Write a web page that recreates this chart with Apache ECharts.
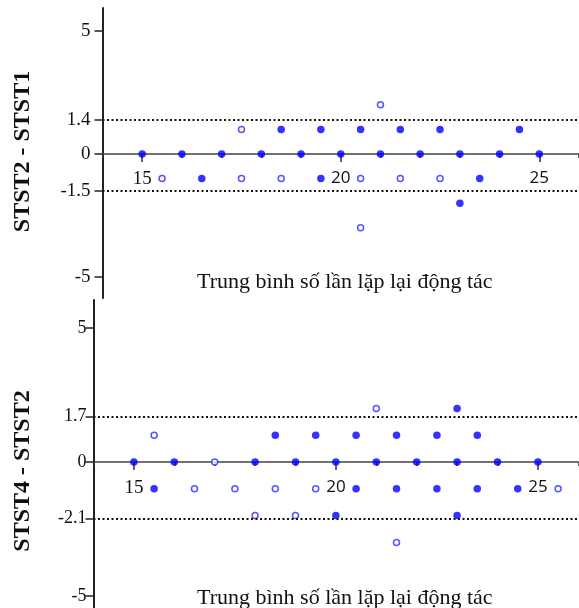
<!DOCTYPE html>
<html>
<head>
<meta charset="utf-8">
<script src="https://cdn.jsdelivr.net/npm/echarts@6/dist/echarts.min.js"></script>
<style>
html,body{margin:0;padding:0;background:#fff;}
#chart{width:579px;height:608px;}
</style>
</head>
<body>
<div id="chart"></div>
<script>
// ---- data ----
var xTickLabels = [15, 20, 25];
var xTitle = 'Trung bình số lần lặp lại động tác';

// Plot 1: STST2 - STST1
var p1Name = 'STST2 - STST1';
var p1Ticks = [5, 1.4, 0, -1.5, -5];
var p1Limits = [1.4, -1.5];
var p1Filled = [
  [15,0],[16,0],[17,0],[18,0],[19,0],[20,0],[21,0],[22,0],[23,0],[24,0],[25,0],
  [18.5,1],[19.5,1],[20.5,1],[21.5,1],[22.5,1],[24.5,1],
  [16.5,-1],[19.5,-1],[23.5,-1],
  [23,-2]
];
var p1Open = [
  [17.5,1],
  [15.5,-1],[17.5,-1],[18.5,-1],[20.5,-1],[21.5,-1],[22.5,-1],
  [21,2],
  [20.5,-3]
];

// Plot 2: STST4 - STST2
var p2Name = 'STST4 - STST2';
var p2Ticks = [5, 1.7, 0, -2.1, -5];
var p2Limits = [1.7, -2.1];
var p2Filled = [
  [15,0],[16,0],[18,0],[19,0],[20,0],[21,0],[22,0],[23,0],[24,0],[25,0],
  [18.5,1],[19.5,1],[20.5,1],[21.5,1],[22.5,1],[23.5,1],
  [15.5,-1],[20.5,-1],[21.5,-1],[22.5,-1],[23.5,-1],[24.5,-1],
  [20,-2],[23,-2],
  [23,2]
];
var p2Open = [
  [17,0],
  [15.5,1],
  [16.5,-1],[17.5,-1],[18.5,-1],[19.5,-1],[25.5,-1],
  [18,-2],[19,-2],
  [21,2],
  [21.5,-3]
];

// ---- layout ----
var SERIF = 'Liberation Serif';
var SANS = 'Open Sans';
var BLUE = '#0000ff';

var g1 = {left: 102.5, top: 8, width: 478.2, height: 290, ymin: -5.854, ymax: 5.935};
var g2 = {left: 93.5, top: 300, width: 484.8, height: 308, ymin: -5.448, ymax: 6.045};
// distance from grid bottom up to the value 0 (x axis sits on y = 0)
function zeroOffset(g){ return -g.height * (0 - g.ymin) / (g.ymax - g.ymin); }

function xLabelFmt(v){ return v === 15 ? '{s|' + v + '}' : '{n|' + v + '}'; }
var xRich = {
  s: {fontFamily: SERIF, fontSize: 19, color: '#111'},
  n: {fontFamily: SANS, fontSize: 17, color: '#111'}
};

function mainX(gi, g, margin){
  return {
    gridIndex: gi, type: 'value', min: 14, max: 26, interval: 1, position: 'bottom',
    offset: zeroOffset(g),
    axisLine: {show: true, onZero: false, lineStyle: {color: '#444', width: 1.5}},
    axisTick: {show: true, length: 4, lineStyle: {color: '#333', width: 1.5}},
    axisLabel: {show: true, customValues: xTickLabels, formatter: xLabelFmt, rich: xRich, margin: margin},
    splitLine: {show: false}
  };
}
function majorX(gi, g){
  return {
    gridIndex: gi, type: 'value', min: 14, max: 26, position: 'bottom',
    offset: zeroOffset(g),
    axisLine: {show: false, onZero: false},
    axisTick: {show: true, length: 8, customValues: xTickLabels, lineStyle: {color: '#333', width: 1.5}},
    axisLabel: {show: false},
    splitLine: {show: false}
  };
}
function yAx(gi, g, ticks, margin, fs){
  return {
    gridIndex: gi, type: 'value', min: g.ymin, max: g.ymax,
    axisLine: {show: true, onZero: false, lineStyle: {color: '#222', width: 2}},
    axisTick: {show: true, length: 8, customValues: ticks, lineStyle: {color: '#222', width: 1.5}},
    axisLabel: {show: true, customValues: ticks, fontFamily: SERIF, fontSize: fs, color: '#111', margin: margin},
    splitLine: {show: false}
  };
}
function limitLine(vals){
  return {
    silent: true, symbol: ['none','none'], label: {show: false},
    lineStyle: {color: '#111', type: [2, 2.5], width: 2},
    data: vals.map(function(v){ return {yAxis: v}; })
  };
}
function filledSeries(xi, yi, data, limits){
  return {
    type: 'scatter', xAxisIndex: xi, yAxisIndex: yi, data: data,
    symbol: 'circle', symbolSize: 7.5, itemStyle: {color: BLUE},
    markLine: limitLine(limits), z: 3
  };
}
function openSeries(xi, yi, data){
  return {
    type: 'scatter', xAxisIndex: xi, yAxisIndex: yi, data: data,
    symbol: 'circle', symbolSize: 6,
    itemStyle: {color: '#fff', borderColor: '#2a2aff', borderWidth: 1.5}, z: 3
  };
}

var chart = echarts.init(document.getElementById('chart'), null, {renderer: 'canvas'});
chart.setOption({
  backgroundColor: '#fff',
  animation: false,
  grid: [
    {left: g1.left, top: g1.top, width: g1.width, height: g1.height},
    {left: g2.left, top: g2.top, width: g2.width, height: g2.height}
  ],
  xAxis: [mainX(0, g1, 16), majorX(0, g1), mainX(1, g2, 17), majorX(1, g2)],
  yAxis: [
    yAx(0, g1, p1Ticks, 12, 19),
    yAx(1, g2, p2Ticks, 7, 18)
  ],
  series: [
    filledSeries(0, 0, p1Filled, p1Limits),
    openSeries(0, 0, p1Open),
    filledSeries(2, 1, p2Filled, p2Limits),
    openSeries(2, 1, p2Open)
  ],
  graphic: [
    {type: 'text', x: 23, y: 151.5, rotation: Math.PI / 2,
     style: {text: p1Name, fontFamily: SERIF, fontWeight: 'bold', fontSize: 24, fill: '#111', align: 'center', verticalAlign: 'middle'}},
    {type: 'text', x: 23, y: 471, rotation: Math.PI / 2,
     style: {text: p2Name, fontFamily: SERIF, fontWeight: 'bold', fontSize: 24, fill: '#111', align: 'center', verticalAlign: 'middle'}},
    {type: 'text', x: 197, y: 282,
     style: {text: xTitle, fontFamily: SERIF, fontSize: 22, fill: '#111', align: 'left', verticalAlign: 'middle'}},
    {type: 'text', x: 197, y: 598,
     style: {text: xTitle, fontFamily: SERIF, fontSize: 22, fill: '#111', align: 'left', verticalAlign: 'middle'}}
  ]
});
</script>
</body>
</html>
